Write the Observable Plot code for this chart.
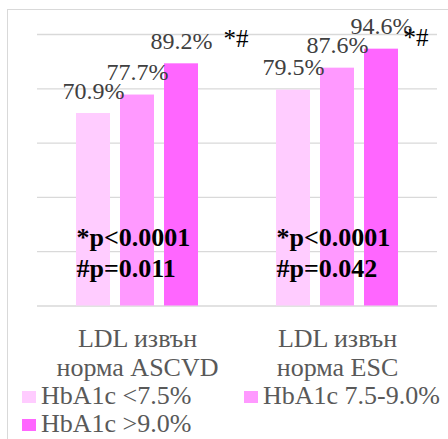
<!DOCTYPE html>
<html>
<head>
<meta charset="utf-8">
<script src="https://cdn.jsdelivr.net/npm/d3@7"></script>
<script src="https://cdn.jsdelivr.net/npm/@observablehq/plot@0.6"></script>
<style>
  html, body { margin: 0; padding: 0; background: #fff; }
  #wrap { position: relative; width: 448px; height: 439px; overflow: hidden; font-family: "Liberation Serif", serif; }
  #border { position: absolute; left: 7px; top: 9px; width: 500px; height: 500px; border-left: 1px solid #d9d9d9; border-top: 1px solid #d9d9d9; }
  #chart { position: absolute; left: 0; top: 0; }
  #legend { position: absolute; left: 22px; top: 382px; width: 426px; display: flex; flex-wrap: wrap; font-size: 26px; line-height: 28px; color: #595959; }
  .item { white-space: nowrap; }
  .sw { display: inline-block; width: 14px; height: 12px; vertical-align: middle; margin-right: 5px; position: relative; top: -1px; }
</style>
</head>
<body>
<div id="wrap">
  <div id="border"></div>
  <div id="chart"></div>
  <div id="legend"></div>
</div>
<script>
const groups = ["LDL извън\nнорма ASCVD", "LDL извън\nнорма ESC"];
const series = ["HbA1c <7.5%", "HbA1c 7.5-9.0%", "HbA1c >9.0%"];
const ascvdValues = [70.9, 77.7, 89.2];
const escValues = [79.5, 87.6, 94.6];
const colors = ["#FFCCFF", "#FF99FF", "#FF66FF"];
const pTexts = ["*p<0.0001\n#p=0.011", "*p<0.0001\n#p=0.042"];
const sigMark = "*#";

const valuesByGroup = [ascvdValues, escValues];
const rows = groups.flatMap((g, gi) => series.map((s, si) => ({group: g, series: s, value: valuesByGroup[gi][si]})));
const pRows = groups.map((g, gi) => ({group: g, series: series[0], text: pTexts[gi]}));

const font = "Liberation Serif";

const chart = Plot.plot({
  width: 448,
  height: 382,
  marginTop: 34,
  marginBottom: 76.5,
  marginLeft: 37,
  marginRight: 11,
  style: {fontFamily: font, color: "#595959", background: "transparent"},
  fx: {domain: groups, padding: 0, label: null},
  x: {domain: series, paddingInner: 0.22, paddingOuter: 0.87, axis: null},
  y: {domain: [0, 100], axis: null},
  color: {domain: series, range: colors},
  marks: [
    Plot.gridY({ticks: [0, 20, 40, 60, 80, 100], stroke: "#d9d9d9", strokeOpacity: 1, strokeWidth: 1.3}),
    Plot.barY(rows, {fx: "group", x: "series", y: "value", fill: "series"}),
    Plot.text(rows, {fx: "group", x: "series", y: "value", text: d => d.value.toFixed(1) + "%", lineAnchor: "bottom", dy: -15, fontSize: 24, fill: "#404040"}),
    Plot.text(pRows, {fx: "group", x: "series", text: "text", frameAnchor: "bottom", lineAnchor: "bottom", textAnchor: "start", dx: -17, dy: -29, fontSize: 26, fontWeight: "bold", fill: "#000", lineHeight: 1.2}),
    Plot.text([{group: groups[0], series: series[2], t: sigMark}], {fx: "group", x: "series", text: "t", frameAnchor: "top", lineAnchor: "middle", textAnchor: "start", dx: 42, dy: 4, fontSize: 25, fill: "#000"}),
    Plot.text([{group: groups[1], series: series[2], t: sigMark}], {fx: "group", x: "series", text: "t", frameAnchor: "top", lineAnchor: "middle", textAnchor: "start", dx: 22, dy: 3, fontSize: 25, fill: "#000"}),
    Plot.axisFx({anchor: "bottom", tickSize: 0, tickPadding: 20, fontSize: 26, lineHeight: 1.13, label: null, fill: "#595959"})
  ]
});
document.getElementById("chart").appendChild(chart);

const legend = document.getElementById("legend");
series.forEach((s, i) => {
  const item = document.createElement("span");
  item.className = "item";
  if (i === 0) item.style.width = "222px";
  const sw = document.createElement("span");
  sw.className = "sw";
  sw.style.background = colors[i];
  item.appendChild(sw);
  item.appendChild(document.createTextNode(s));
  legend.appendChild(item);
});
</script>
</body>
</html>
